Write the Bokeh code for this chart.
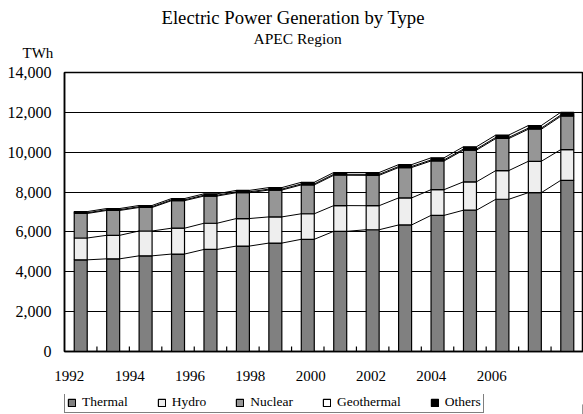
from bokeh.plotting import figure
from bokeh.layouts import column
from bokeh.models import (Range1d, FixedTicker, NumeralTickFormatter, Legend,
                          LegendItem, Title, ColumnDataSource, CustomJSTickFormatter)
from bokeh.embed import file_html
from bokeh.resources import INLINE
import numpy as np

# ---------------- data (TWh) ----------------
years = [1992, 1993, 1994, 1995, 1996, 1997, 1998, 1999,
         2000, 2001, 2002, 2003, 2004, 2005, 2006, 2007]
thermal = [4600, 4650, 4800, 4890, 5120, 5290, 5440, 5630,
           6030, 6110, 6350, 6830, 7090, 7640, 7970, 8590]
hydro = [1095, 1180, 1247, 1297, 1315, 1382, 1314, 1281,
         1290, 1206, 1357, 1290, 1424, 1441, 1575, 1541]
nuclear = [1230, 1247, 1180, 1382, 1365, 1297, 1348, 1449,
           1524, 1524, 1524, 1440, 1591, 1608, 1608, 1675]
geothermal = [35, 37, 38, 40, 42, 44, 45, 46,
              48, 49, 50, 52, 54, 55, 57, 58]
others = [60, 60, 62, 65, 70, 72, 78, 85,
          90, 92, 95, 105, 115, 120, 130, 140]
series_names = ["Thermal", "Hydro", "Nuclear", "Geothermal", "Others"]
series_colors = ["#808080", "#eeeeee", "#969696", "#ffffff", "#000000"]
y_ticks = [0, 2000, 4000, 6000, 8000, 10000, 12000, 14000]
x_tick_labels = ["1992", "1994", "1996", "1998", "2000", "2002", "2004", "2006"]

SERIF = "Liberation Serif"
n = len(years)
xs = list(range(n))
src = ColumnDataSource(dict(x=xs, Thermal=thermal, Hydro=hydro, Nuclear=nuclear,
                            Geothermal=geothermal, Others=others))

LEG_H = 20
FRAME_H = 279
Y_MAX = y_ticks[-1]
p = figure(width=583, height=414 - LEG_H, output_backend="svg", toolbar_location=None,
           title=None, x_range=Range1d(-0.5, n - 0.5), y_range=Range1d(0, Y_MAX),
           min_border_left=64, min_border_right=0, min_border_top=72,
           min_border_bottom=414 - LEG_H - 72 - FRAME_H)
p.background_fill_color = "white"
p.border_fill_color = "white"
p.outline_line_color = "black"
p.outline_line_width = 1.5

BAR_W = 0.4
renderers = p.vbar_stack(series_names, x="x", width=BAR_W, source=src,
                         fill_color=series_colors, line_color="black", line_width=1.2)

# series lines joining the stacked tops of neighbouring columns
cum = np.cumsum(np.array([thermal, hydro, nuclear, geothermal, others], dtype=float), axis=0)
x0, y0, x1, y1 = [], [], [], []
for level in cum:
    for i in range(n - 1):
        x0.append(xs[i] + BAR_W / 2)
        y0.append(level[i])
        x1.append(xs[i + 1] - BAR_W / 2)
        y1.append(level[i + 1])
p.segment(x0=x0, y0=y0, x1=x1, y1=y1, line_color="black", line_width=1)

# short inward ticks between the categories
bounds_x = [i + 0.5 for i in range(n - 1)]
tick_len = 5 / FRAME_H * Y_MAX
p.segment(x0=bounds_x, y0=[0] * len(bounds_x), x1=bounds_x, y1=[tick_len] * len(bounds_x),
          line_color="black", line_width=1.2)

# y axis
yax = p.yaxis[0]
yax.ticker = FixedTicker(ticks=y_ticks)
yax.formatter = NumeralTickFormatter(format="0,0")
yax.major_tick_in = 5
yax.major_tick_out = 0
yax.minor_tick_line_color = None
yax.axis_line_width = 1.5
yax.major_label_standoff = 13
yax.major_label_text_font = SERIF
yax.major_label_text_font_size = "16px"
yax.major_label_text_color = "black"

p.ygrid.ticker = FixedTicker(ticks=y_ticks)
p.ygrid.grid_line_color = "black"
p.ygrid.grid_line_width = 1
p.xgrid.visible = False

# x axis labels (every other year)
label_pos = [years.index(int(t)) * 0.93 - 0.35 for t in x_tick_labels]
xax = p.xaxis[0]
xax.ticker = FixedTicker(ticks=label_pos)
xax.formatter = CustomJSTickFormatter(args=dict(labels=x_tick_labels),
                                      code="return labels[index]")
xax.axis_line_width = 1.5
xax.major_tick_line_color = None
xax.minor_tick_line_color = None
xax.major_label_standoff = 13
xax.major_label_text_font = SERIF
xax.major_label_text_font_size = "15px"
xax.major_label_text_color = "black"

# titles (first added sits closest to the frame)
p.add_layout(Title(text="TWh", align="left", offset=-42, standoff=23,
                   text_font=SERIF, text_font_size="15px", text_font_style="normal",
                   text_color="black"), "above")
p.add_layout(Title(text="Electric Power Generation by Type", align="left", offset=97,
                   standoff=7, text_font=SERIF, text_font_size="18.7px",
                   text_font_style="normal", text_color="black"), "above")
p.add_layout(Title(text="APEC Region", align="left", offset=189, standoff=-90,
                   text_font=SERIF, text_font_size="15.5px", text_font_style="normal",
                   text_color="black"), "above")

# legend strip under the chart (its frame is aligned with the chart's frame)
lf = figure(width=583, height=LEG_H, output_backend="svg", toolbar_location=None, title=None,
            x_range=Range1d(0, 1), y_range=Range1d(0, 1),
            x_axis_location=None, y_axis_location=None,
            min_border_left=0, min_border_right=0, min_border_top=0, min_border_bottom=0)
lf.outline_line_color = None
lf.xgrid.visible = False
lf.ygrid.visible = False
# legend-only renderers, placed outside the visible range
leg_renderers = [lf.vbar(x=[5], top=[0.5], width=BAR_W, fill_color=c, line_color="black",
                         line_width=1.2) for c in series_colors]
items = [LegendItem(label=nm, renderers=[r]) for nm, r in zip(series_names, leg_renderers)]
legend = Legend(items=items, orientation="horizontal", location=(0, 1), margin=0,
                padding=2, spacing=29, glyph_width=9, glyph_height=9, label_standoff=6,
                label_height=9, label_text_line_height=0.6,
                label_text_font=SERIF, label_text_font_size="13.5px",
                label_text_color="black", border_line_color="black", border_line_width=1,
                background_fill_color="white", background_fill_alpha=1)
lf.add_layout(legend, "center")

open("out.html", "w").write(file_html(column(p, lf, spacing=0), INLINE))
